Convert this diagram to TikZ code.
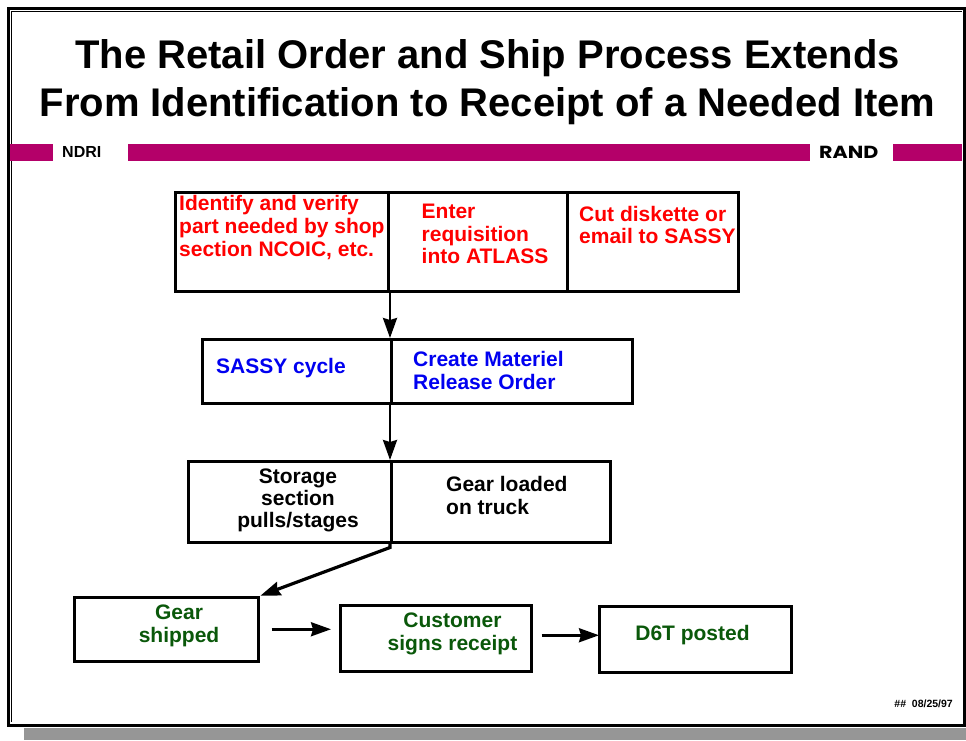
\documentclass[tikz,border=0pt]{standalone}
\usepackage{fontspec}
\setmainfont{Liberation Sans}
\newfontfamily\randfont[FakeStretch=1.18]{Poppins}
\usetikzlibrary{arrows.meta}

\definecolor{barmagenta}{RGB}{180,0,105}
\definecolor{txtred}{RGB}{255,0,0}
\definecolor{txtblue}{RGB}{0,0,240}
\definecolor{txtgreen}{RGB}{10,88,10}
\definecolor{shadowgray}{RGB}{150,150,150}

% multi-line nodes are placed by the baseline of their last line
\tikzset{
  cellbox/.style={draw=black, line width=2.5pt, inner sep=0pt, anchor=north west},
  boxtext/.style={inner sep=0pt, font=\fontsize{21}{23}\selectfont\bfseries, align=left, anchor=base west},
  ctrtext/.style={inner sep=0pt, font=\fontsize{21}{23}\selectfont\bfseries, align=center, anchor=base},
  flow/.style={draw=black, line width=2.6pt, -{Stealth[length=20pt,width=14pt,inset=2pt]}},
}

\begin{document}
\begin{tikzpicture}[x=1pt,y=-1pt]
\useasboundingbox (0,0) rectangle (966,740);

% slide frame with drop shadow
\fill[shadowgray] (24,728) rectangle (966,740);
\draw[line width=3pt] (8.5,8) rectangle (964.5,725);
\draw[line width=1pt] (11.8,722) -- (11.8,11.3) -- (962,11.3);

% title
\node[inner sep=0pt, anchor=base, align=center,
      font=\fontsize{40}{48}\selectfont\bfseries] (title) at (487.5,116)
  {The Retail Order and Ship Process Extends\\From Identification to Receipt of a Needed Item};

% banner
\fill[barmagenta] (10,144) rectangle (53,160.5);
\fill[barmagenta] (128,144) rectangle (810,160.5);
\fill[barmagenta] (893,144) rectangle (962,160.5);
\node[inner sep=0pt, anchor=base west, font=\fontsize{16}{18}\selectfont\bfseries] (ndri) at (62,157) {NDRI};
\node[inner sep=0pt, anchor=base west, font=\fontsize{17.5}{19}\randfont\bfseries] (rand) at (819,158) {RAND};

% row 1
\node[cellbox, minimum width=213pt, minimum height=99pt] (r1a) at (174,191) {};
\node[cellbox, minimum width=179pt, minimum height=99pt] (r1b) at (387,191) {};
\node[cellbox, minimum width=171pt, minimum height=99pt] (r1c) at (566,191) {};
\node[boxtext, text=txtred] (t1a) at (179,256.5) {Identify and verify\\part needed by shop\\section NCOIC, etc.};
\node[boxtext, text=txtred, font=\fontsize{21}{22.3}\selectfont\bfseries] (t1b) at (421.5,263.5) {Enter\\requisition\\into ATLASS};
\node[boxtext, text=txtred, font=\fontsize{21}{21.5}\selectfont\bfseries] (t1c) at (579,243) {Cut diskette or\\email to SASSY};

% row 2
\node[cellbox, minimum width=189pt, minimum height=64pt] (r2a) at (201,338) {};
\node[cellbox, minimum width=241pt, minimum height=64pt] (r2b) at (390,338) {};
\node[boxtext, text=txtblue] (t2a) at (216,373) {SASSY cycle};
\node[boxtext, text=txtblue] (t2b) at (413,389) {Create Materiel\\Release Order};

% row 3
\node[cellbox, minimum width=203pt, minimum height=81pt] (r3a) at (187,460) {};
\node[cellbox, minimum width=219pt, minimum height=81pt] (r3b) at (390,460) {};
\node[ctrtext, font=\fontsize{21}{22}\selectfont\bfseries] (t3a) at (298,527) {Storage\\section\\pulls/stages};
\node[boxtext] (t3b) at (446,514) {Gear loaded\\on truck};

% row 4
\node[cellbox, minimum width=184pt, minimum height=64pt] (gs) at (73,596) {};
\node[cellbox, minimum width=191pt, minimum height=66pt] (cu) at (339,604) {};
\node[cellbox, minimum width=192pt, minimum height=66pt] (d6) at (598,605) {};
\node[ctrtext, text=txtgreen] (t4a) at (179,642) {Gear\\shipped};
\node[ctrtext, text=txtgreen] (t4b) at (452.5,650) {Customer\\signs receipt};
\node[ctrtext, text=txtgreen] (t4c) at (692.5,640) {D6T posted};

% connectors
\draw[flow] (r2b.north west |- r1a.south) -- (r2b.north west);
\draw[flow] (r2b.south west) -- (r3b.north west);
\draw[flow, line width=3.2pt, shorten >=1pt] (r3b.south west) -- ++(0,4) -- (gs.north east);
\draw[flow] ([xshift=12pt]gs.east) -- ([xshift=-8pt]cu.west |- gs.east);
\draw[flow] ([shift={(9,-3)}]cu.east) -- ([shift={(1,-3)}]d6.west |- cu.east);

% footer
\node[inner sep=0pt, anchor=base east, font=\fontsize{10.5}{12}\selectfont\bfseries] (stamp) at (953,707) {\#\#\ \ 08/25/97};
\end{tikzpicture}
\end{document}
